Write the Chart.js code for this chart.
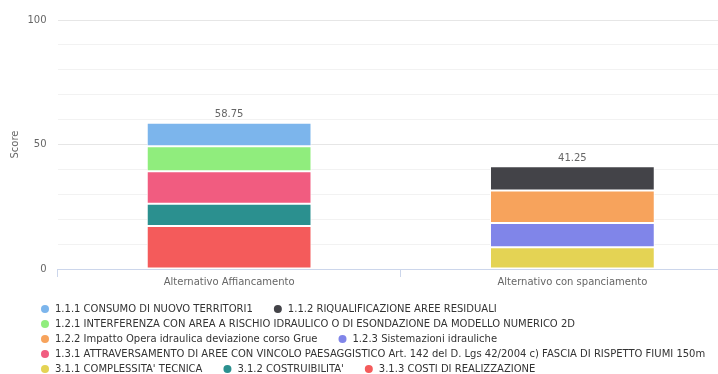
<!DOCTYPE html>
<html><head><meta charset="utf-8">
<script src="https://cdn.jsdelivr.net/npm/chart.js@4.4.1/dist/chart.umd.min.js"></script>
<style>
html,body{margin:0;padding:0;background:#fff;overflow:hidden;width:718px;height:374px}
#wrap{position:absolute;left:0;top:0;width:744px;height:384px}
</style>
</head><body><div id="wrap"><canvas id="c" width="744" height="384"></canvas></div>
<script>
// ---- data ----
const categories = ['Alternativo Affiancamento', 'Alternativo con spanciamento'];
const seriesNames = [
  '1.1.1 CONSUMO DI NUOVO TERRITORI1',
  '1.1.2 RIQUALIFICAZIONE AREE RESIDUALI',
  '1.2.1 INTERFERENZA CON AREA A RISCHIO IDRAULICO O DI ESONDAZIONE DA MODELLO NUMERICO 2D',
  '1.2.2 Impatto Opera idraulica deviazione corso Grue',
  '1.2.3 Sistemazioni idrauliche',
  '1.3.1 ATTRAVERSAMENTO DI AREE CON VINCOLO PAESAGGISTICO Art. 142 del D. Lgs 42/2004 c) FASCIA DI RISPETTO FIUMI 150m',
  "3.1.1 COMPLESSITA' TECNICA",
  "3.1.2 COSTRUIBILITA'",
  '3.1.3 COSTI DI REALIZZAZIONE'
];
const s111 = [9.5, null];
const s112 = [null, 9.75];
const s121 = [10, null];
const s122 = [null, 13];
const s123 = [null, 9.75];
const s131 = [13, null];
const s311 = [null, 8.75];
const s312 = [9, null];
const s313 = [17.25, null];
const seriesValues = [s111, s112, s121, s122, s123, s131, s311, s312, s313];
const yTickLabels = [0, 50, 100];
const yAxisTitle = 'Score';

// ---- styles ----
const palette = ['#7cb5ec', '#434348', '#90ed7d', '#f7a35c', '#8085e9', '#f15c80', '#e4d354', '#2b908f', '#f45b5b'];

Chart.defaults.font.family = "'DejaVu Sans', sans-serif";
Chart.defaults.font.size = 10;

const datasets = seriesNames.map((name, i) => ({
  label: name,
  data: seriesValues[i],
  backgroundColor: palette[i],
  borderColor: '#ffffff',
  borderWidth: 1,
  borderSkipped: false,
  categoryPercentage: 0.6,
  barPercentage: 0.8
})).reverse();

const stackTotals = {
  id: 'stackTotals',
  afterDatasetsDraw(chart) {
    const ctx = chart.ctx;
    const xs = chart.scales.x, ys = chart.scales.y;
    ctx.save();
    ctx.font = "10px 'DejaVu Sans', sans-serif";
    ctx.fillStyle = '#666666';
    ctx.textAlign = 'center';
    ctx.textBaseline = 'middle';
    categories.forEach((c, j) => {
      let t = 0;
      seriesValues.forEach(v => { if (v[j] != null) t += v[j]; });
      ctx.fillText(t.toFixed(2), xs.getPixelForValue(j), ys.getPixelForValue(t) - 8);
    });
    ctx.restore();
  }
};

const legendShift = {
  id: 'legendShift',
  afterLayout(chart) {
    chart.legend.left += 35;
    chart.legend.right += 35;
  }
};

new Chart(document.getElementById('c'), {
  type: 'bar',
  data: { labels: categories, datasets },
  options: {
    responsive: false,
    animation: false,
    devicePixelRatio: 1,
    layout: { padding: { top: 20, left: 0, right: 0, bottom: 0 } },
    scales: {
      x: {
        stacked: true,
        grid: { display: true, drawOnChartArea: false, drawTicks: true, tickLength: 8, color: '#ccd6eb', offset: true },
        border: { display: true, color: '#ccd6eb' },
        ticks: { color: '#666666', padding: -1, font: { size: 10 } },
        afterFit(s) { s.height = 30; }
      },
      y: {
        stacked: true,
        min: 0, max: 100,
        grid: {
          drawTicks: false,
          color: c => (yTickLabels.includes(c.tick.value) ? '#e6e6e6' : '#f2f2f2')
        },
        border: { display: false },
        ticks: {
          stepSize: 10,
          padding: 11,
          color: '#666666',
          font: { size: 10 },
          autoSkip: false,
          callback: v => (yTickLabels.includes(v) ? String(v) : '')
        },
        title: { display: true, text: yAxisTitle, color: '#666666', font: { size: 10 }, padding: { top: 9, bottom: 0 } },
        afterFit(s) { s.width = 57.5; }
      }
    },
    plugins: {
      tooltip: { enabled: false },
      legend: {
        position: 'bottom',
        align: 'start',
        reverse: true,
        labels: {
          usePointStyle: true,
          boxWidth: 10,
          boxHeight: 5.66,
          padding: 5,
          color: '#333333',
          font: { size: 10 },
          generateLabels(chart) {
            return Chart.defaults.plugins.legend.labels.generateLabels(chart).map(l => ({
              ...l,
              text: l.text + '\u2002\u2002\u2002',
              strokeStyle: l.fillStyle,
              lineWidth: 0,
              pointStyle: 'circle'
            }));
          }
        }
      }
    }
  },
  plugins: [stackTotals, legendShift]
});
</script>
</body></html>
